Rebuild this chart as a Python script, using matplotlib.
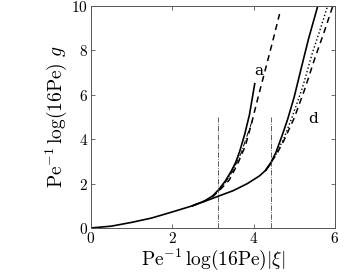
import numpy as np
import matplotlib
matplotlib.use("Agg")
import matplotlib.pyplot as plt

plt.rcParams['mathtext.fontset'] = 'cm'
plt.rcParams['font.family'] = 'serif'
plt.rcParams['font.serif'] = ['DejaVu Serif']

# shared lower curve
x_base = [0, 0.5, 1.0, 1.5, 2.0, 2.5, 2.8, 3.12, 3.5, 3.85, 4.15, 4.3, 4.43]
y_base = [0, 0.08, 0.25, 0.45, 0.72, 1.0, 1.2, 1.42, 1.68, 2.0, 2.35, 2.6, 2.92]

# branch a
xa_solid = [2.5, 2.8, 3.0, 3.14, 3.3, 3.45, 3.56, 3.66, 3.78, 3.9, 4.03]
ya_solid = [1.0, 1.22, 1.45, 1.72, 2.1, 2.55, 2.95, 3.45, 4.2, 5.1, 6.5]
xa_dash = [2.5, 2.8, 3.0, 3.14, 3.4, 3.6, 3.8, 3.95, 4.1, 4.3, 4.47, 4.64]
ya_dash = [1.0, 1.21, 1.42, 1.65, 2.15, 2.85, 3.7, 4.7, 5.8, 7.2, 8.4, 9.64]
xa_dd = [3.14, 3.3, 3.5, 3.7, 3.85, 3.98]
ya_dd = [1.66, 2.02, 2.6, 3.4, 4.2, 4.9]

# branch d
xd_solid = [4.3, 4.43, 4.55, 4.7, 4.84, 5.0, 5.16, 5.35, 5.58]
yd_solid = [2.6, 2.95, 3.4, 4.15, 4.9, 5.9, 7.1, 8.5, 10.0]
xd_dot = [4.3, 4.43, 4.56, 4.75, 4.95, 5.2, 5.45, 5.65, 5.82]
yd_dot = [2.6, 2.95, 3.35, 4.05, 5.0, 6.3, 7.9, 9.0, 10.0]
xd_dash = [4.3, 4.43, 4.56, 4.75, 5.0, 5.25, 5.5, 5.75, 5.95]
yd_dash = [2.6, 2.95, 3.3, 3.95, 4.95, 6.2, 7.6, 8.9, 10.0]

# vertical markers
x_marks = [3.12, 4.42]
y_mark_top = 5.0

fig = plt.figure(figsize=(3.62, 2.73), dpi=100)
ax = fig.add_axes([0.251, 0.165, 0.674, 0.813])

k = 'black'
ax.plot(x_base, y_base, color=k, lw=1.2)
ax.plot(xa_solid, ya_solid, color=k, lw=1.2)
ax.plot(xa_dash, ya_dash, color=k, lw=1.1, ls=(0, (4, 3)))
ax.plot(xa_dd, ya_dd, color=k, lw=0.7, ls='-.')
ax.plot(xd_solid, yd_solid, color=k, lw=1.2)
ax.plot(xd_dot, yd_dot, color=k, lw=1.0, ls=':')
ax.plot(xd_dash, yd_dash, color=k, lw=1.1, ls=(0, (4, 3)))
for xm in x_marks:
    ax.plot([xm, xm], [0, y_mark_top], color='#444444', lw=0.6, ls='-.')

ax.text(4.02, 6.9, 'a', fontsize=11, family='serif')
ax.text(5.35, 4.75, 'd', fontsize=11, family='serif')

ax.set_xlim(0, 6)
ax.set_ylim(0, 10)
ax.set_xticks([0, 2, 4, 6])
ax.set_yticks([0, 2, 4, 6, 8, 10])
ax.set_xticklabels([f'${v}$' for v in [0, 2, 4, 6]])
ax.set_yticklabels([f'${v}$' for v in [0, 2, 4, 6, 8, 10]])
ax.tick_params(direction='in', length=3, width=0.6, top=True, right=True,
               labelsize=11, pad=2, color='#555555')
for s in ax.spines.values():
    s.set_linewidth(0.7)
    s.set_color('#555555')

ax.set_xlabel(r'$\mathrm{Pe}^{-1}\,\log(16\mathrm{Pe})|\xi|$', fontsize=14, labelpad=1)
ax.set_ylabel(r'$\mathrm{Pe}^{-1}\,\log(16\mathrm{Pe})\ g$', fontsize=14, labelpad=2)

fig.savefig('out.png', dpi=100)
